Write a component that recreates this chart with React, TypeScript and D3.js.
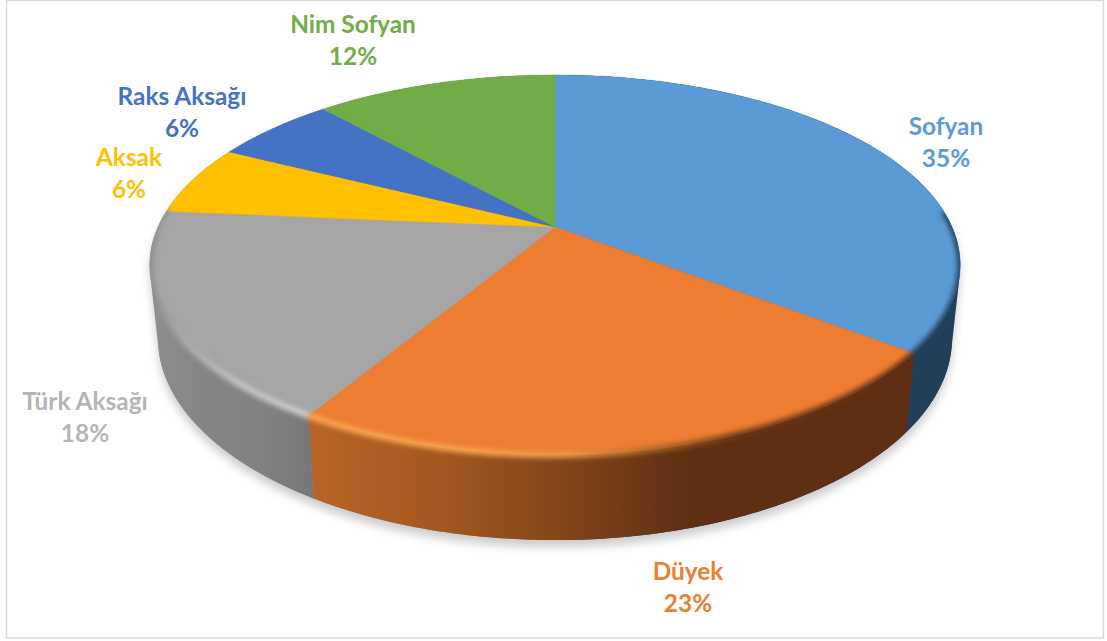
import React from "react";
import * as d3 from "d3";

const categories = ["Sofyan", "Düyek", "Türk Aksağı", "Aksak", "Raks Aksağı", "Nim Sofyan"];
const shares = [35.4, 23.2, 17.8, 6.0, 5.9, 11.7];
const colors = ["#5B9BD5", "#ED7D31", "#A5A5A5", "#FFC000", "#4472C4", "#70AD47"];
const labelCenters: [number, number][] = [[946, 127], [688, 572], [85, 402], [129, 158], [182, 97], [353, 25]];
const labelColors = ["#5B9BD5", "#ED7D31", "#B4B4B4", "#FFC000", "#4472C4", "#70AD47"];

const W = 1107, H = 641, CX = 555;
const K = 0.2;
const topPlane = { c: 227, A: 397, B: 182.4 };
const bottomPlane = { c: 297.6, A: 389, B: 194 };

const project = (p: { c: number; A: number; B: number }, t: number): [number, number] => {
  const den = 1 + K * Math.cos(t);
  return [CX + (p.A * Math.sin(t)) / den, p.c - (p.B * Math.cos(t)) / den];
};

const sampleAngles = (a: number, b: number) => {
  const n = Math.max(2, Math.ceil(Math.abs(b - a) / 0.01));
  return d3.range(n + 1).map((i) => a + ((b - a) * i) / n);
};
const line = d3.line<[number, number]>();
const pieArcs = d3.pie<number>().sort(null).startAngle(0).endAngle(2 * Math.PI)(shares);

const sideStops: [number, string][][] = [
  [[900, "#223F5A"], [960, "#223F5A"]],
  [[307, "#B86528"], [440, "#A4581F"], [560, "#84451A"], [690, "#5E2F12"], [910, "#5E2F12"]],
  [[150, "#8E8E8E"], [200, "#858585"], [260, "#828282"], [310, "#787878"]],
  [[0, "#888888"], [W, "#888888"]],
  [[0, "#888888"], [W, "#888888"]],
  [[0, "#888888"], [W, "#888888"]],
];
const hullStops: [number, string][] = [[0, "#8E8E8E"], [555, "#8E8E8E"], [556, "#223F5A"], [W, "#223F5A"]];
const rimStops: [number, string][] = [
  [150, "#8C8C8C"], [185, "#A8A8A8"], [240, "#C6C6C6"], [306, "#CFCFCF"], [308, "#FBA650"],
  [470, "#FBA650"], [570, "#F09A48"], [650, "#B0642A"], [740, "#6B3815"], [908, "#5E2F12"],
  [915, "#223F5A"], [960, "#223F5A"],
];
const RIM_START = (85 * Math.PI) / 180;
const RIM_END = (276 * Math.PI) / 180;

export default function App() {
  const circle = sampleAngles(0, 2 * Math.PI);
  const topFace = line(circle.map((t) => project(topPlane, t))) + "Z";
  const bottomFace = line(circle.map((t) => project(bottomPlane, t))) + "Z";
  const hullPts = d3.polygonHull([...circle.map((t) => project(topPlane, t)), ...circle.map((t) => project(bottomPlane, t))]) as [number, number][];
  const hull = line(hullPts) + "Z";
  const rim = line(sampleAngles(RIM_START, RIM_END).map((t) => project(topPlane, t))) as string;
  return (
    <svg width={W} height={H} viewBox={`0 0 ${W} ${H}`} style={{ position: "fixed", left: 0, top: 0, background: "#fff" }}>
      <defs>
        <filter id="shadow" x="-10%" y="-10%" width="120%" height="120%"><feGaussianBlur stdDeviation="5" /></filter>
        <filter id="bevel" x="-10%" y="-10%" width="120%" height="120%"><feGaussianBlur stdDeviation="2.6" /></filter>
        {sideStops.map((stops, i) => (
          <linearGradient key={i} id={`side${i}`} gradientUnits="userSpaceOnUse" x1={0} x2={W} y1={0} y2={0}>
            {stops.map(([x, c], j) => <stop key={j} offset={x / W} stopColor={c} />)}
          </linearGradient>
        ))}
        <linearGradient id="hullFill" gradientUnits="userSpaceOnUse" x1={0} x2={W} y1={0} y2={0}>
          {hullStops.map(([x, c], j) => <stop key={j} offset={x / W} stopColor={c} />)}
        </linearGradient>
        <linearGradient id="rim" gradientUnits="userSpaceOnUse" x1={0} x2={W} y1={0} y2={0}>
          {rimStops.map(([x, c], j) => <stop key={j} offset={x / W} stopColor={c} />)}
        </linearGradient>
        <clipPath id="solid"><path d={hull} /></clipPath>
      </defs>
      <rect x={6.5} y={0.5} width={1097} height={637.5} fill="#fff" stroke="#D9D9D9" strokeWidth={1.5} />
      <path d={hull} fill="#000" opacity={0.2} filter="url(#shadow)" transform="translate(0,7)" />
      <path d={hull} fill="url(#hullFill)" />
      {pieArcs.map((a, i) => {
        const ts = sampleAngles(a.startAngle, a.endAngle);
        const pts = [...ts.map((t) => project(topPlane, t)), ...ts.slice().reverse().map((t) => project(bottomPlane, t))];
        return <path key={i} d={line(pts) + "Z"} fill={`url(#side${i})`} />;
      })}
      {pieArcs.map((a, i) => {
        const pts: [number, number][] = [[CX, topPlane.c], ...sampleAngles(a.startAngle, a.endAngle).map((t) => project(topPlane, t))];
        return <path key={i} d={line(pts) + "Z"} fill={colors[i]} stroke={colors[i]} strokeWidth={0.5} />;
      })}
      <g clipPath="url(#solid)">
        <path d={rim} fill="none" stroke="url(#rim)" strokeWidth={6} filter="url(#bevel)" />
      </g>
      {categories.map((name, i) => (
        <text key={name} textAnchor="middle" fontFamily="Lato, 'Open Sans', sans-serif" fontWeight={700} fontSize={24.4} fill={labelColors[i]}>
          <tspan x={labelCenters[i][0]} y={labelCenters[i][1] + 8}>{name}</tspan>
          <tspan x={labelCenters[i][0]} y={labelCenters[i][1] + 40}>{`${Math.round(shares[i])}%`}</tspan>
        </text>
      ))}
    </svg>
  );
}
